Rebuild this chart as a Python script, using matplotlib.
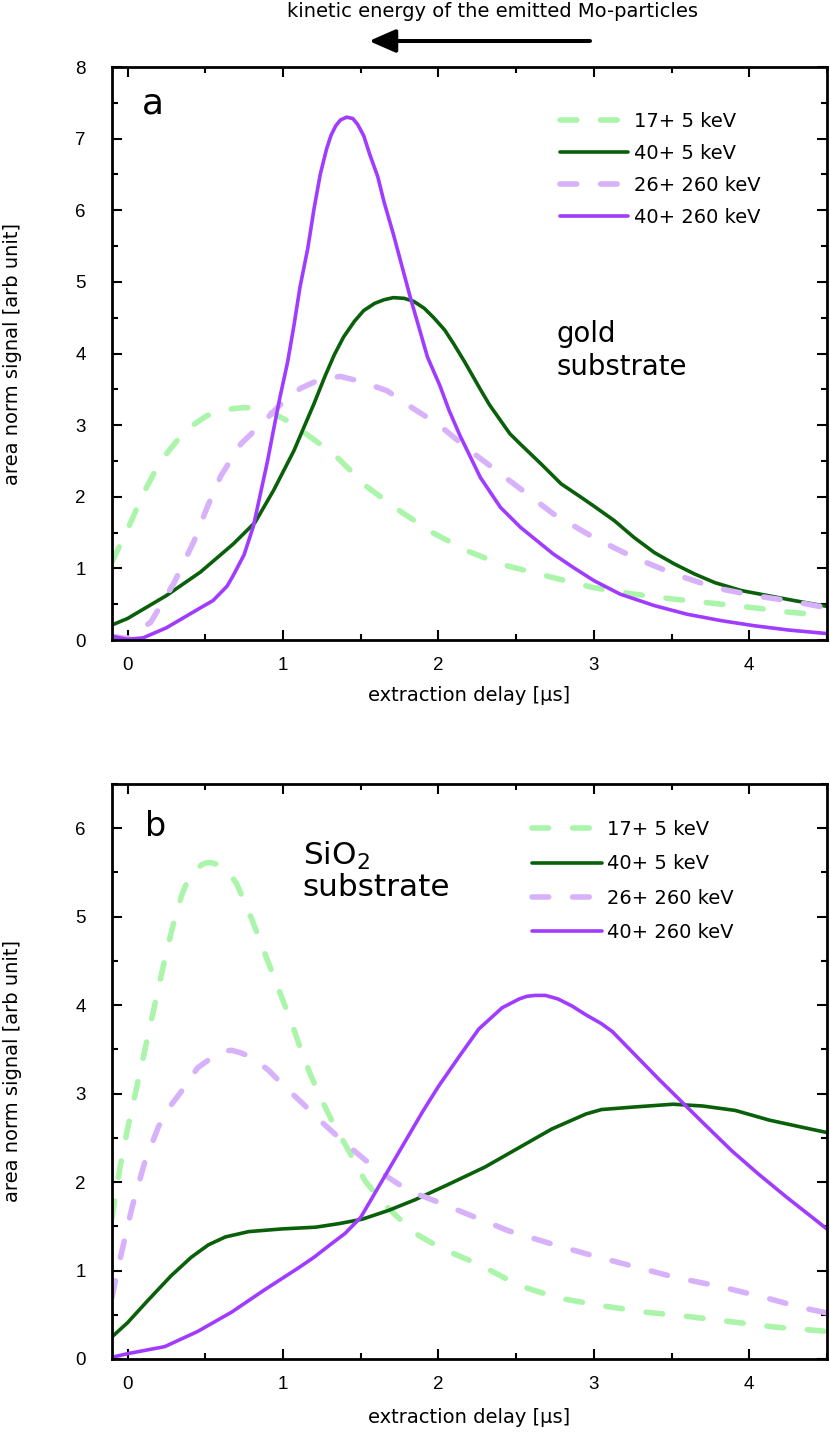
import matplotlib
matplotlib.use("Agg")
import matplotlib.pyplot as plt
from matplotlib.ticker import MultipleLocator

plt.rcParams['font.family'] = ['DejaVu Sans']

# ---------------- data ----------------
labels = ["17+ 5 keV", "40+ 5 keV", "26+ 260 keV", "40+ 260 keV"]

# panel a : gold substrate
gold_x_17_5 = [-0.1, 0.0, 0.1, 0.21, 0.34, 0.42, 0.51, 0.6, 0.68, 0.75, 0.81, 0.88, 0.94, 1.02,
               1.11, 1.33, 1.54, 1.76, 1.97, 2.19, 2.4, 2.74, 3.0, 3.26, 3.52, 3.78, 4.03,
               4.25, 4.5]
gold_y_17_5 = [1.09, 1.54, 2.04, 2.49, 2.84, 3.0, 3.13, 3.2, 3.23, 3.245, 3.24, 3.21, 3.16, 3.07,
               2.94, 2.59, 2.14, 1.79, 1.49, 1.24, 1.06, 0.87, 0.73, 0.64, 0.57, 0.51, 0.45,
               0.39, 0.34]

gold_x_40_5 = [-0.1, 0.0, 0.25, 0.47, 0.68, 0.82, 0.94, 1.07, 1.2, 1.27, 1.33, 1.39, 1.46, 1.52,
               1.59, 1.65, 1.71, 1.78, 1.84, 1.91, 1.97, 2.04, 2.1, 2.17, 2.27, 2.33, 2.46,
               2.53, 2.66, 2.79, 2.92, 3.0, 3.13, 3.26, 3.39, 3.52, 3.65, 3.78, 3.95, 4.12,
               4.29, 4.5]
gold_y_40_5 = [0.21, 0.3, 0.62, 0.95, 1.34, 1.64, 2.09, 2.64, 3.3, 3.68, 3.98, 4.23, 4.45, 4.6,
               4.7, 4.75, 4.78, 4.77, 4.73, 4.63, 4.5, 4.33, 4.13, 3.88, 3.5, 3.28, 2.88,
               2.73, 2.46, 2.18, 1.99, 1.87, 1.67, 1.43, 1.22, 1.06, 0.92, 0.8, 0.69, 0.62,
               0.55, 0.47]

gold_x_26_260 = [-0.1, 0.0, 0.15, 0.3, 0.43, 0.51, 0.6, 0.73, 0.86, 0.98, 1.11, 1.24, 1.37, 1.5,
                 1.67, 1.84, 2.0, 2.2, 2.51, 2.74, 3.0, 3.26, 3.52, 3.78, 4.03, 4.25, 4.5]
gold_y_26_260 = [0.05, 0.02, 0.25, 0.8, 1.39, 1.84, 2.29, 2.74, 3.01, 3.28, 3.51, 3.64, 3.68, 3.61,
                 3.48, 3.23, 3.01, 2.65, 2.14, 1.76, 1.43, 1.15, 0.92, 0.73, 0.62, 0.55, 0.45]

gold_x_40_260 = [-0.1, 0.0, 0.1, 0.25, 0.47, 0.55, 0.64, 0.68, 0.75, 0.81, 0.85, 0.9, 0.94, 0.98,
                 1.03, 1.07, 1.11, 1.16, 1.2, 1.24, 1.28, 1.31, 1.34, 1.37, 1.41, 1.45, 1.48,
                 1.52, 1.56, 1.61, 1.65, 1.71, 1.82, 1.93, 2.01, 2.07, 2.14, 2.27, 2.4, 2.53,
                 2.74, 2.87, 3.0, 3.17, 3.39, 3.6, 3.82, 4.03, 4.25, 4.5]
gold_y_40_260 = [0.05, 0.01, 0.03, 0.17, 0.45, 0.55, 0.75, 0.9, 1.19, 1.59, 1.99, 2.49, 2.94, 3.38,
                 3.88, 4.38, 4.93, 5.47, 6.02, 6.5, 6.85, 7.05, 7.18, 7.26, 7.3, 7.28, 7.2,
                 7.04, 6.77, 6.47, 6.12, 5.67, 4.78, 3.95, 3.55, 3.2, 2.85, 2.27, 1.85, 1.57,
                 1.2, 1.01, 0.83, 0.64, 0.48, 0.36, 0.27, 0.2, 0.14, 0.09]

# panel b : SiO2 substrate
sio2_x_17_5 = [-0.1, -0.05, 0.0, 0.05, 0.1, 0.15, 0.2, 0.25, 0.3, 0.35, 0.39, 0.43, 0.48, 0.51,
               0.54, 0.58, 0.65, 0.7, 0.73, 0.8, 0.88, 0.97, 1.06, 1.14, 1.23, 1.31, 1.44,
               1.53, 1.64, 1.74, 1.87, 2.02, 2.26, 2.52, 2.77, 3.06, 3.33, 3.61, 3.89, 4.17,
               4.45, 4.5]
sio2_y_17_5 = [1.6, 2.15, 2.6, 3.0, 3.4, 3.8, 4.2, 4.6, 4.95, 5.25, 5.42, 5.52, 5.59, 5.61,
               5.61, 5.59, 5.5, 5.38, 5.26, 4.97, 4.6, 4.19, 3.78, 3.37, 3.0, 2.71, 2.3,
               2.01, 1.77, 1.6, 1.4, 1.25, 1.07, 0.83, 0.69, 0.6, 0.53, 0.48, 0.42, 0.36,
               0.32, 0.31]

sio2_x_40_5 = [-0.1, 0.0, 0.13, 0.28, 0.41, 0.52, 0.63, 0.78, 0.99, 1.21, 1.36, 1.51, 1.68, 1.85,
               2.06, 2.3, 2.52, 2.73, 2.95, 3.05, 3.27, 3.51, 3.7, 3.91, 4.13, 4.34, 4.5]
sio2_y_40_5 = [0.25, 0.41, 0.66, 0.94, 1.15, 1.29, 1.38, 1.44, 1.47, 1.49, 1.53, 1.58, 1.68, 1.8,
               1.97, 2.17, 2.39, 2.6, 2.77, 2.82, 2.85, 2.88, 2.86, 2.81, 2.7, 2.62, 2.56]

sio2_x_26_260 = [-0.1, -0.04, 0.03, 0.11, 0.2, 0.28, 0.37, 0.45, 0.56, 0.62, 0.67, 0.73, 0.8,
                 0.91, 1.01, 1.12, 1.23, 1.33, 1.44, 1.55, 1.68, 1.81, 1.96, 2.17, 2.45, 2.73,
                 2.99, 3.27, 3.53, 3.81, 4.09, 4.34, 4.5]
sio2_y_26_260 = [0.7, 1.19, 1.72, 2.22, 2.63, 2.87, 3.08, 3.29, 3.43, 3.48, 3.49, 3.46, 3.41,
                 3.26, 3.08, 2.9, 2.71, 2.55, 2.38, 2.22, 2.05, 1.9, 1.8, 1.65, 1.45, 1.3,
                 1.17, 1.04, 0.92, 0.82, 0.7, 0.58, 0.52]

sio2_x_40_260 = [-0.1, 0.0, 0.24, 0.45, 0.67, 0.88, 1.1, 1.2, 1.31, 1.4, 1.5, 1.6, 1.7, 1.8, 1.9,
                 2.0, 2.13, 2.26, 2.41, 2.52, 2.57, 2.62, 2.69, 2.77, 2.86, 2.95, 3.05, 3.12,
                 3.27, 3.42, 3.57, 3.72, 3.89, 4.06, 4.24, 4.5]
sio2_y_40_260 = [0.02, 0.06, 0.14, 0.31, 0.53, 0.78, 1.03, 1.15, 1.3, 1.42, 1.6, 1.9, 2.2, 2.5,
                 2.8, 3.08, 3.41, 3.73, 3.97, 4.07, 4.1, 4.11, 4.11, 4.07, 3.99, 3.89, 3.79,
                 3.7, 3.43, 3.16, 2.9, 2.64, 2.35, 2.09, 1.83, 1.47]

x_ticks = [0, 1, 2, 3, 4]
gold_y_ticks = [0, 1, 2, 3, 4, 5, 6, 7, 8]
sio2_y_ticks = [0, 1, 2, 3, 4, 5, 6]

# ---------------- styles ----------------
c_lgreen = '#abf5ab'
c_dgreen = '#0a600a'
c_lpurple = '#d7b2fb'
c_purple = '#a03cff'
dash_lw = 4.0
solid_lw = 2.6
dash_pat = (3.0, 4.3)

fig = plt.figure(figsize=(8.3, 14.32), dpi=100)
ax1 = fig.add_axes([0.1349, 0.55307, 0.8614, 0.40014])
ax2 = fig.add_axes([0.1349, 0.05098, 0.8614, 0.40154])


def draw(ax, series):
    for (x, y), lab, col, dashed in zip(series, labels,
                                        [c_lgreen, c_dgreen, c_lpurple, c_purple],
                                        [True, False, True, False]):
        if dashed:
            ax.plot(x, y, color=col, lw=dash_lw, dashes=dash_pat,
                    dash_capstyle='round', dash_joinstyle='round', label=lab)
        else:
            ax.plot(x, y, color=col, lw=solid_lw, solid_capstyle='round',
                    solid_joinstyle='round', label=lab)


draw(ax1, [(gold_x_17_5, gold_y_17_5), (gold_x_40_5, gold_y_40_5),
           (gold_x_26_260, gold_y_26_260), (gold_x_40_260, gold_y_40_260)])
draw(ax2, [(sio2_x_17_5, sio2_y_17_5), (sio2_x_40_5, sio2_y_40_5),
           (sio2_x_26_260, sio2_y_26_260), (sio2_x_40_260, sio2_y_40_260)])

for ax, ylim, yt in [(ax1, (0, 8), gold_y_ticks), (ax2, (0, 6.5), sio2_y_ticks)]:
    ax.set_xlim(-0.1, 4.5)
    ax.set_ylim(*ylim)
    ax.set_xticks(x_ticks)
    ax.set_yticks(yt)
    ax.xaxis.set_minor_locator(MultipleLocator(0.5))
    ax.yaxis.set_minor_locator(MultipleLocator(0.5))
    ax.tick_params(which='both', direction='in', top=True, right=True, width=1.5)
    ax.tick_params(which='major', length=7.5)
    ax.tick_params(which='minor', length=4.5)
    ax.tick_params(axis='x', which='major', pad=12)
    ax.tick_params(axis='y', which='major', pad=19)
    for lab in ax.get_xticklabels() + ax.get_yticklabels():
        lab.set_fontfamily('Liberation Sans')
        lab.set_fontsize(13.5)
    for sp in ax.spines.values():
        sp.set_linewidth(2.0)
    ax.set_xlabel('extraction delay [µs]', fontsize=14)
    ax.set_ylabel('area norm signal [arb unit]', fontsize=14)
    ax.yaxis.set_label_coords(-0.126, 0.5)

ax1.xaxis.set_label_coords(0.5, -0.080)
ax2.xaxis.set_label_coords(0.5, -0.085)

ax1.legend(loc='upper left', bbox_to_anchor=(0.627, 0.921), frameon=False,
           handlelength=3.5, handletextpad=0.3, labelspacing=0.66,
           borderpad=0, borderaxespad=0, fontsize=14)
ax2.legend(loc='upper left', bbox_to_anchor=(0.587, 0.937), frameon=False,
           handlelength=3.6, handletextpad=0.3, labelspacing=0.78,
           borderpad=0, borderaxespad=0, fontsize=14)

# panel letters and substrate annotations
ax1.text(0.042, 0.919, 'a', transform=ax1.transAxes, fontsize=26, va='baseline', ha='left')
ax2.text(0.046, 0.9096, 'b', transform=ax2.transAxes, fontsize=24, va='baseline', ha='left')
ax1.text(0.622, (640 - 342) / 573, 'gold', transform=ax1.transAxes, fontsize=19.8,
         va='baseline', ha='left')
ax1.text(0.622, (640 - 375) / 573, 'substrate', transform=ax1.transAxes, fontsize=19.8,
         va='baseline', ha='left')
ax2.text(0.267, (1359 - 865) / 575, r'SiO$_2$', transform=ax2.transAxes, fontsize=22.4,
         va='baseline', ha='left')
ax2.text(0.267, (1359 - 896) / 575, 'substrate', transform=ax2.transAxes, fontsize=22.4,
         va='baseline', ha='left')

# header text and arrow
fig.text(492 / 830, 1 - 17 / 1432, 'kinetic energy of the emitted Mo-particles',
         fontsize=14, ha='center', va='baseline')
fig.add_artist(matplotlib.patches.FancyArrowPatch(
    (590 / 830, 1 - 41 / 1432), (369 / 830, 1 - 41 / 1432),
    transform=fig.transFigure, arrowstyle='-|>,head_length=0.8,head_width=0.35',
    mutation_scale=20, lw=2.9, color='black', shrinkA=0, shrinkB=0))

fig.savefig('out.png', dpi=100)
